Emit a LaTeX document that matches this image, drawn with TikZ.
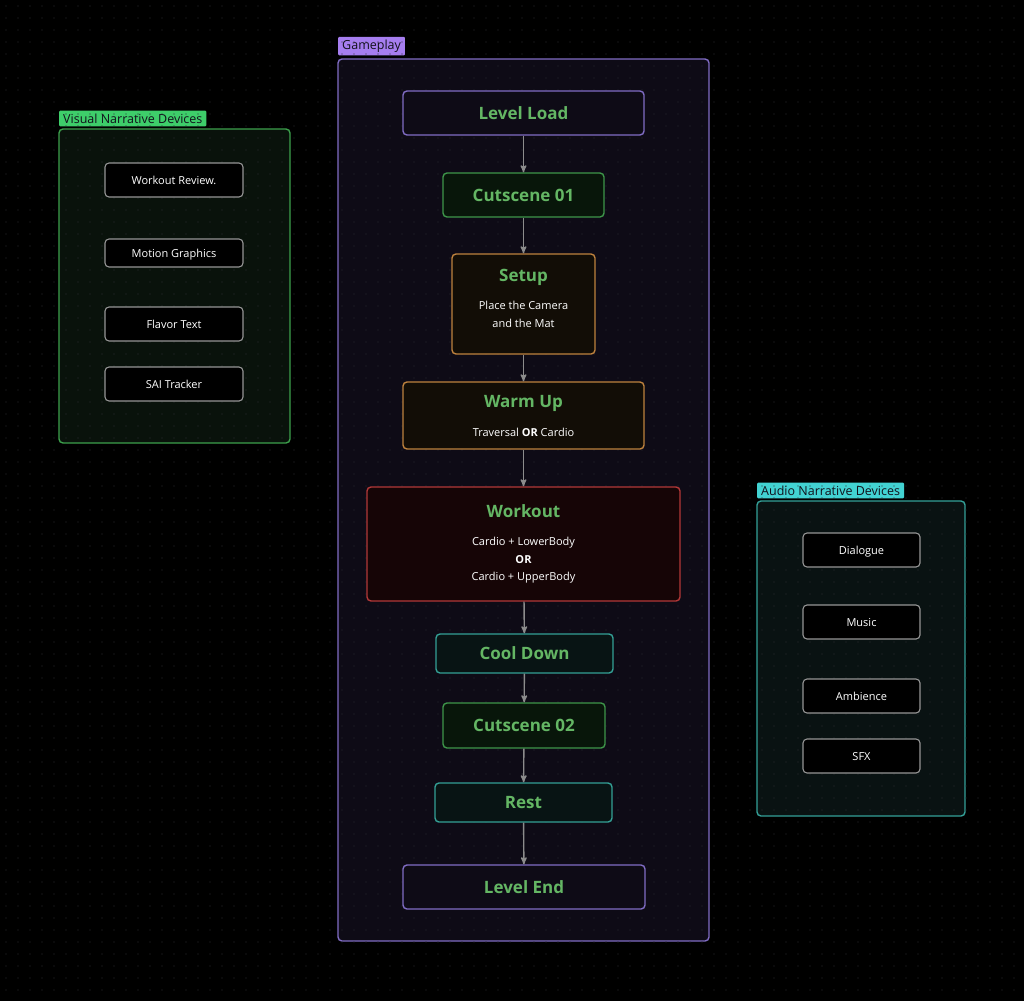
\documentclass[tikz,border=0pt]{standalone}
\usepackage{fontspec}
\setmainfont{Open Sans}
\usetikzlibrary{arrows}

\definecolor{bgc}{RGB}{0,0,0}
\definecolor{dotc}{RGB}{44,44,50}
\definecolor{ngreen}{RGB}{100,182,100}
\definecolor{gpurple}{RGB}{128,108,196}
\definecolor{gpurplefill}{RGB}{14,11,22}
\definecolor{tagpurple}{RGB}{166,126,240}
\definecolor{cgreen}{RGB}{62,150,74}
\definecolor{cgreenfill}{RGB}{8,22,10}
\definecolor{corange}{RGB}{190,130,62}
\definecolor{corangefill}{RGB}{18,13,6}
\definecolor{cred}{RGB}{178,56,56}
\definecolor{credfill}{RGB}{22,5,6}
\definecolor{cteal}{RGB}{52,160,150}
\definecolor{ctealfill}{RGB}{8,20,20}
\definecolor{vgreen}{RGB}{60,160,76}
\definecolor{vgreenfill}{RGB}{9,18,11}
\definecolor{taggreen}{RGB}{62,206,106}
\definecolor{ateal}{RGB}{52,160,152}
\definecolor{atealfill}{RGB}{9,18,18}
\definecolor{tagcyan}{RGB}{66,210,210}
\definecolor{tagtext}{RGB}{18,18,28}
\definecolor{arrowc}{RGB}{140,140,140}
\definecolor{itemc}{RGB}{150,150,150}

\begin{document}
\begin{tikzpicture}[x=1pt,y=-1pt,>=stealth',inner sep=0pt]
	\tikzstyle{frame}=[draw,rounded corners=4pt,line width=1.4pt]
	\tikzstyle{tag}=[anchor=south west,inner xsep=4pt,inner ysep=3pt,rounded corners=1pt,text=tagtext,
		font=\fontsize{12.5}{14}\selectfont]
	\tikzstyle{stepbox}=[draw,rounded corners=4pt,line width=1.4pt,text=ngreen,align=center,
		font=\fontsize{17}{22}\selectfont\bfseries]
	\tikzstyle{detailbox}=[stepbox,text=white,font=\fontsize{11}{18}\selectfont]
	\tikzstyle{item}=[draw=itemc,fill=black,rounded corners=4pt,line width=1.1pt,text=white,
		text height=9pt,text depth=0pt,font=\fontsize{11}{14}\selectfont]
	\tikzstyle{every edge}=[draw,->,arrowc,line width=1.4pt]

	\fill[bgc] (0,0) rectangle (1024,1001);
	\useasboundingbox (0,0) rectangle (1024,1001);

	% containers
	\node[frame,draw=gpurple,fill=gpurplefill,minimum width=371pt,minimum height=882pt] (gameplay) at (523.5,500) {};
	\node[tag,fill=tagpurple] (gameplaytag) at (338,55.5) {Gameplay};
	\node[frame,draw=vgreen,fill=vgreenfill,minimum width=231pt,minimum height=314pt] (visual) at (174.5,286) {};
	\node[tag,fill=taggreen] (visualtag) at (59,126.5) {Visual Narrative Devices};
	\node[frame,draw=ateal,fill=atealfill,minimum width=208pt,minimum height=315pt] (audio) at (861,658.5) {};
	\node[tag,fill=tagcyan] (audiotag) at (757,498.5) {Audio Narrative Devices};

	% dot grid
	\foreach \x in {6,18,...,1020}
		\foreach \y in {6,18,...,996}
			\fill[dotc] (\x,\y) circle (0.6pt);

	% gameplay steps
	\node[stepbox,draw=gpurple,fill=gpurplefill,minimum width=241pt,minimum height=44pt] (load) at (523.5,113) {Level Load};
	\node[stepbox,draw=cgreen,fill=cgreenfill,minimum width=161pt,minimum height=44pt] (cut1) at (523.5,195) {Cutscene 01};
	\node[detailbox,draw=corange,fill=corangefill,minimum width=143pt,minimum height=100pt,text depth=11pt] (setup) at (523.5,304)
		{\textcolor{ngreen}{\fontsize{17}{22}\selectfont\bfseries Setup}\\[10pt]Place the Camera\\and the Mat};
	\node[detailbox,draw=corange,fill=corangefill,minimum width=241pt,minimum height=67pt] (warmup) at (523.5,415.5)
		{\textcolor{ngreen}{\fontsize{17}{22}\selectfont\bfseries Warm Up}\\[11pt]Traversal \textbf{OR} Cardio};
	\node[detailbox,draw=cred,fill=credfill,minimum width=313pt,minimum height=114pt,font=\fontsize{11}{17.5}\selectfont] (workout) at (523.5,544)
		{\textcolor{ngreen}{\fontsize{17}{22}\selectfont\bfseries Workout}\\[10.5pt]Cardio + LowerBody\\\textbf{OR}\\Cardio + UpperBody};
	\node[stepbox,draw=cteal,fill=ctealfill,minimum width=177pt,minimum height=39pt] (cooldown) at (524.5,653.5) {Cool Down};
	\node[stepbox,draw=cgreen,fill=cgreenfill,minimum width=162pt,minimum height=45pt] (cut2) at (524,725.5) {Cutscene 02};
	\node[stepbox,draw=cteal,fill=ctealfill,minimum width=177pt,minimum height=39pt] (rest) at (523.5,802.5) {Rest};
	\node[stepbox,draw=gpurple,fill=gpurplefill,minimum width=242pt,minimum height=44pt] (levelend) at (524,887) {Level End};

	\path (load) edge (cut1);
	\path (cut1) edge (setup);
	\path (setup) edge (warmup);
	\path (warmup) edge (workout);
	\path (workout) edge (cooldown);
	\path (cooldown) edge (cut2);
	\path (cut2) edge (rest);
	\path (rest) edge (levelend);

	% visual devices
	\node[item,minimum width=138pt,minimum height=34pt] (review) at (174,180) {Workout Review.};
	\node[item,minimum width=138pt,minimum height=28pt] (motion) at (174,253) {Motion Graphics};
	\node[item,minimum width=138pt,minimum height=34pt] (flavor) at (174,324) {Flavor Text};
	\node[item,minimum width=138pt,minimum height=34pt] (sai) at (174,384) {SAI Tracker};

	% audio devices
	\node[item,minimum width=117pt,minimum height=34pt] (dialogue) at (861.5,550) {Dialogue};
	\node[item,minimum width=117pt,minimum height=34pt] (music) at (861.5,622) {Music};
	\node[item,minimum width=117pt,minimum height=34pt] (ambience) at (861.5,696) {Ambience};
	\node[item,minimum width=117pt,minimum height=34pt] (sfx) at (861.5,756) {SFX};
\end{tikzpicture}
\end{document}
